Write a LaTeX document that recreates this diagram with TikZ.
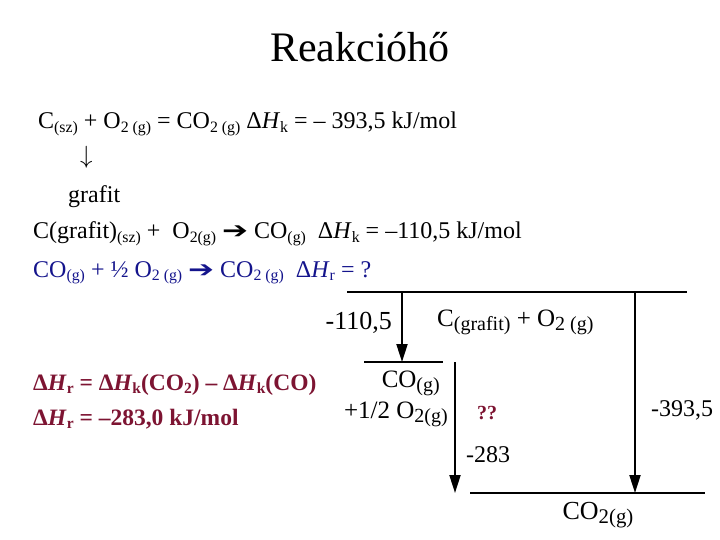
\documentclass[tikz,border=0pt]{standalone}
\usepackage{fontspec}
\setmainfont{Liberation Serif}
\newfontfamily\arrfont{DejaVu Sans}
\usetikzlibrary{arrows.meta}
\definecolor{eqblue}{RGB}{20,20,140}
\definecolor{eqred}{RGB}{125,20,50}
\tikzstyle{txt}=[inner sep=0pt, anchor=base west, font=\fontsize{24}{28}\selectfont]
\tikzstyle{bold}=[txt, text=eqred, font=\bfseries\fontsize{23.5}{26}\selectfont]
\tikzstyle{lbl}=[inner sep=0pt, font=\fontsize{25}{28}\selectfont]
\tikzstyle{level}=[line width=2pt]
\tikzstyle{drop}=[line width=2pt, -{Triangle[length=18pt,width=11pt]}]
\newcommand{\thickarr}{\scalebox{1.55}[1.15]{\arrfont\fontsize{20}{20}\selectfont ➔}}
\newcommand{\sub}[1]{\raisebox{-0.35ex}{\scalebox{0.66}{#1}}}
\newcommand{\lsub}[1]{\raisebox{-0.35ex}{\scalebox{0.8}{#1}}}
\newcommand{\dH}[1]{Δ\textit{H}\sub{#1}}

\begin{document}
\begin{tikzpicture}[x=1pt, y=-1pt]
            \useasboundingbox (0,0) rectangle (720,540);
            \node[inner sep=0pt, anchor=base, font=\fontsize{42}{48}\selectfont] (title) at (360,62) {Reakcióhő};
            \node[txt] (eq1) at (38,129) {C\sub{(sz)} + O\sub{2 (g)} = CO\sub{2 (g)} \dH{k} = – 393,5 kJ/mol};
            \node[txt] (down) at (80,164) {$\downarrow$};
            \node[txt] (grafit) at (68,203) {grafit};
            \node[txt] (eq2) at (33,239) {C(grafit)\sub{(sz)} + \ O\sub{2(g)} \thickarr{} CO\sub{(g)} \ \dH{k} = –110,5 kJ/mol};
            \node[txt, text=eqblue] (eq3) at (33,277) {CO\sub{(g)} + ½ O\sub{2 (g)} \thickarr{} CO\sub{2 (g)} \ \dH{r} = ?};
            \node[bold] (dHr1) at (33,390) {\dH{r} = \dH{k}(CO\sub{2}) – \dH{k}(CO)};
            \node[bold] (dHr2) at (33,425) {\dH{r} = –283,0 kJ/mol};

            \coordinate (top1) at (347,292);
            \coordinate (top2) at (687,292);
            \coordinate (mid1) at (364,362);
            \coordinate (mid2) at (443,362);
            \coordinate (bot1) at (470,493);
            \coordinate (bot2) at (705,493);
            \draw[level] (top1) -- (top2);
            \draw[level] (mid1) -- (mid2);
            \draw[level] (bot1) -- (bot2);

            \coordinate (a1) at (402,292);
            \coordinate (b1) at (402,362);
            \coordinate (a2) at (455,362);
            \coordinate (b2) at (455,493);
            \coordinate (a3) at (635,292);
            \coordinate (b3) at (635,493);
            \draw[drop] (a1) -- (b1);
            \draw[drop] (a2) -- (b2);
            \draw[drop] (a3) -- (b3);

            \node[lbl, anchor=east, font=\fontsize{26}{28}\selectfont] (h110) at (392,323) {-110,5};
            \node[lbl, anchor=west] (react) at (437,322) {C\lsub{(grafit)} + O\lsub{2 (g)}};
            \node[lbl, anchor=east] (co) at (440,383) {CO\lsub{(g)}};
            \node[lbl, anchor=east] (half) at (448,414) {+1/2 O\lsub{2(g)}};
            \node[lbl, anchor=west, text=eqred, font=\bfseries\fontsize{20}{22}\selectfont] (qq) at (477,413) {??};
            \node[lbl, anchor=west, font=\fontsize{24}{28}\selectfont] (h283) at (466,455) {-283};
            \node[lbl, anchor=west, font=\fontsize{24}{28}\selectfont] (h393) at (651,410) {-393,5};
            \node[lbl, font=\fontsize{26}{28}\selectfont] (co2) at (598,515) {CO\lsub{2(g)}};
        \end{tikzpicture}
\end{document}
